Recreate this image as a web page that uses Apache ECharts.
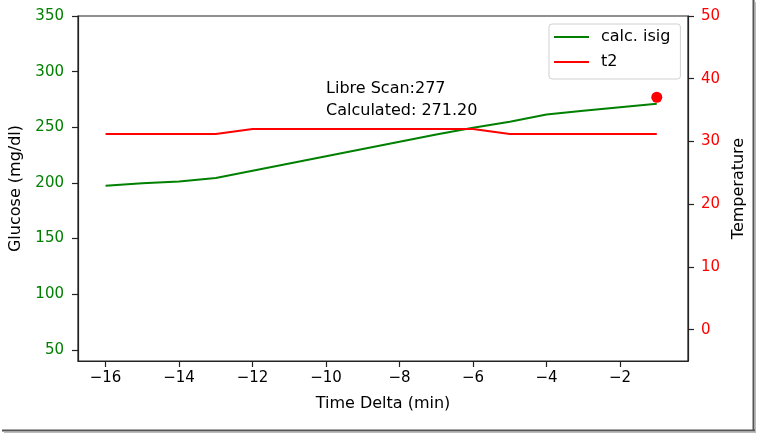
<!DOCTYPE html>
<html>
<head>
<meta charset="utf-8">
<script src="https://cdn.jsdelivr.net/npm/echarts@6/dist/echarts.min.js"></script>
<style>
html,body{margin:0;padding:0;background:#fff;}
#c{width:758px;height:434px;}
</style>
</head>
<body>
<div id="c"></div>
<script>
// ---- data ----
var timeDelta = [-16, -15, -14, -13, -12, -11, -10, -9, -8, -7, -6, -5, -4, -3, -2, -1];
var calcIsig  = [197.4, 199.7, 201.3, 204.5, 211, 217.5, 224, 230.5, 237, 243.5, 249.5, 255, 261.5, 264.8, 268, 271.2];
var t2Temp    = [31.2, 31.2, 31.2, 31.2, 32.0, 32.0, 32.0, 32.0, 32.0, 32.0, 32.0, 31.2, 31.2, 31.2, 31.2, 31.2];
var libreScan = [[-1, 277]];
var annotationPos = [-10, 260];
var annotationText = ['Libre Scan:277', 'Calculated: 271.20'];
var xTicks = [-16, -14, -12, -10, -8, -6, -4, -2];
var glucoseTicks = [50, 100, 150, 200, 250, 300, 350];
var tempTicks = [0, 10, 20, 30, 40, 50];

var FONT = 'DejaVu Sans';
var chart = echarts.init(document.getElementById('c'), null, {renderer: 'canvas'});

function pair(xs, ys) { return xs.map(function (x, i) { return [x, ys[i]]; }); }
function fmtMinus(v) { return v < 0 ? '\u2212' + Math.abs(v) : String(v); }

var option = {
  animation: false,
  backgroundColor: '#fff',
  textStyle: {fontFamily: FONT},
  grid: {left: 76, right: 70, top: 16, bottom: 73, show: true, borderColor: '#222', borderWidth: 1.2, containLabel: false},
  legend: {
    data: ['calc. isig', 't2'],
    orient: 'vertical',
    left: 549, top: 24,
    icon: 'rect', itemWidth: 35, itemHeight: 2, itemGap: 9,
    padding: [5, 10, 9, 5],
    backgroundColor: 'rgba(255,255,255,0.8)',
    borderColor: '#d0d0d0', borderWidth: 1, borderRadius: 3,
    textStyle: {fontFamily: FONT, fontSize: 16, color: '#000', padding: [0, 0, 0, 7]}
  },
  xAxis: {
    type: 'value', min: -16.75, max: -0.15,
    name: 'Time Delta (min)', nameLocation: 'middle', nameGap: 35,
    nameTextStyle: {fontFamily: FONT, fontSize: 16, color: '#000'},
    axisLine: {show: true, onZero: false, lineStyle: {color: '#222', width: 1.2}},
    axisTick: {show: true, length: 6, customValues: xTicks, lineStyle: {color: '#222', width: 1.2}},
    axisLabel: {customValues: xTicks, formatter: fmtMinus, fontFamily: FONT, fontSize: 15, color: '#000', margin: 10},
    splitLine: {show: false}
  },
  yAxis: [{
    type: 'value', min: 40, max: 350, position: 'left',
    name: 'Glucose (mg/dl)', nameLocation: 'middle', nameGap: 54,
    nameTextStyle: {fontFamily: FONT, fontSize: 16, color: '#000'},
    axisLine: {show: true, onZero: false, lineStyle: {color: '#222', width: 1.2}},
    axisTick: {show: true, length: 6, customValues: glucoseTicks, lineStyle: {color: '#222', width: 1.2}},
    axisLabel: {customValues: glucoseTicks, fontFamily: FONT, fontSize: 15, color: '#008000', margin: 14},
    splitLine: {show: false}
  }, {
    type: 'value', min: -5, max: 50, position: 'right',
    name: 'Temperature', nameLocation: 'middle', nameGap: 40,
    nameTextStyle: {fontFamily: FONT, fontSize: 16, color: '#000'},
    axisLine: {show: true, onZero: false, lineStyle: {color: '#222', width: 1.2}},
    axisTick: {show: true, length: 6, customValues: tempTicks, lineStyle: {color: '#222', width: 1.2}},
    axisLabel: {customValues: tempTicks, fontFamily: FONT, fontSize: 15, color: '#ff0000', margin: 13},
    splitLine: {show: false}
  }],
  series: [{
    name: 'calc. isig', type: 'line', yAxisIndex: 0,
    data: pair(timeDelta, calcIsig),
    symbol: 'none', color: '#008000',
    lineStyle: {color: '#008000', width: 2}
  }, {
    name: 'Libre Scan', type: 'scatter', yAxisIndex: 0,
    data: libreScan, symbolSize: 11,
    itemStyle: {color: '#ff0000', opacity: 1}, z: 5
  }, {
    name: 't2', type: 'line', yAxisIndex: 1,
    data: pair(timeDelta, t2Temp),
    symbol: 'none', color: '#ff0000',
    lineStyle: {color: '#ff0000', width: 2}, z: 3
  }, {
    name: 'annotation', type: 'scatter', yAxisIndex: 0,
    data: [annotationPos], symbolSize: 0, silent: true,
    itemStyle: {opacity: 1},
    label: {
      show: true, position: [0, 0], align: 'left', verticalAlign: 'bottom',
      offset: [0, 6], opacity: 1,
      formatter: annotationText.join('\n'),
      fontFamily: FONT, fontSize: 16, lineHeight: 22, color: '#000'
    }
  }],
  graphic: [
    {type: 'line', shape: {x1: 753.5, y1: 0, x2: 753.5, y2: 431}, style: {stroke: '#555', lineWidth: 2}, silent: true},
    {type: 'line', shape: {x1: 2, y1: 430.5, x2: 755, y2: 430.5}, style: {stroke: '#555', lineWidth: 2}, silent: true},
    {type: 'line', shape: {x1: 755.5, y1: 2, x2: 755.5, y2: 433}, style: {stroke: '#bbb', lineWidth: 1}, silent: true},
    {type: 'line', shape: {x1: 4, y1: 432.5, x2: 756, y2: 432.5}, style: {stroke: '#bbb', lineWidth: 1}, silent: true}
  ]
};
chart.setOption(option);
</script>
</body>
</html>
